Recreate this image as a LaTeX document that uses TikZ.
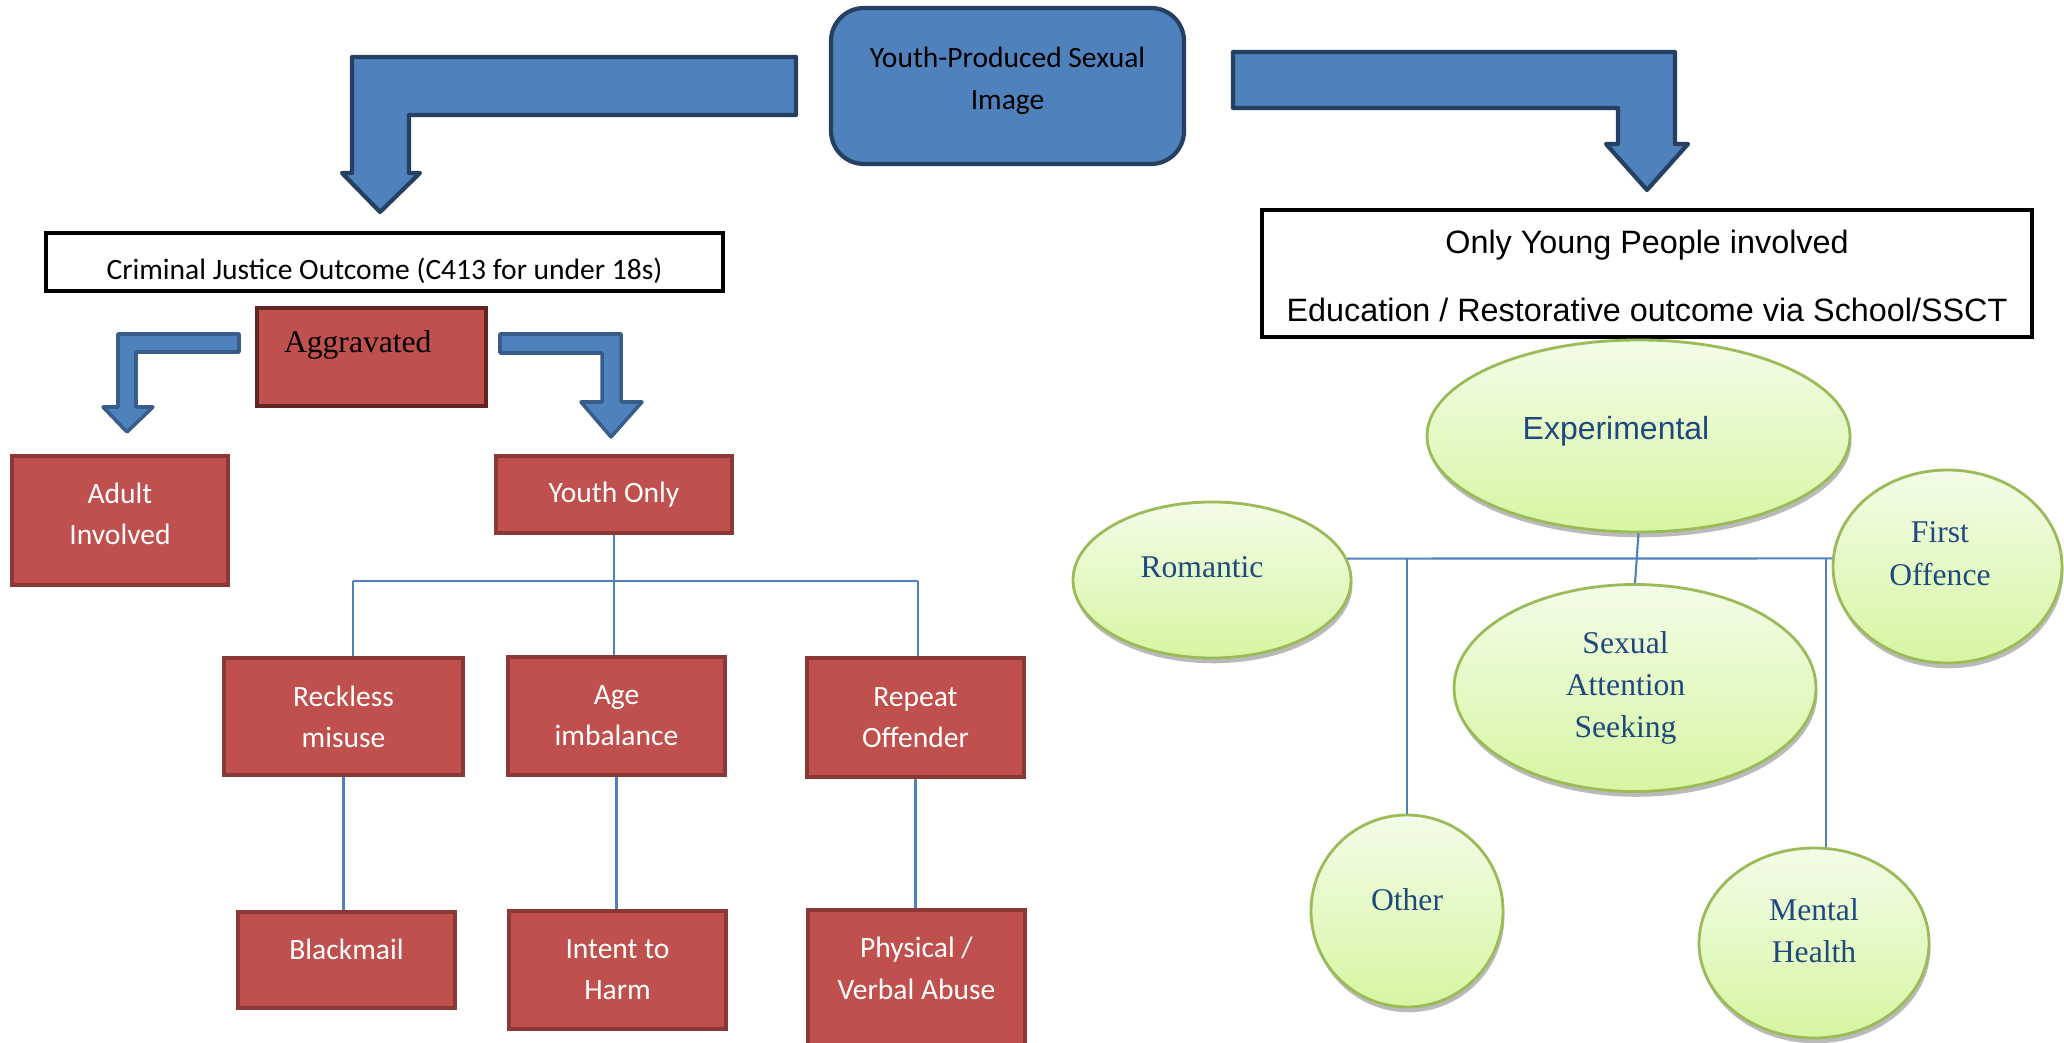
\documentclass[tikz,border=0pt]{standalone}
\usepackage{fontspec}
\newfontfamily\calib{Carlito}
\newfontfamily\tmsf{Liberation Serif}
\newfontfamily\arlf{Liberation Sans}
\usetikzlibrary{shapes.geometric}
\usetikzlibrary{shadows}
\definecolor{bg1}{RGB}{79,129,189}
\definecolor{l1}{RGB}{37,64,97}
\definecolor{l2}{RGB}{56,93,138}
\definecolor{bg2}{RGB}{192,80,77}
\definecolor{l3}{RGB}{140,56,54}
\definecolor{l4}{RGB}{99,37,35}
\definecolor{g1}{RGB}{243,252,232}
\definecolor{g2}{RGB}{214,246,162}
\definecolor{l5}{RGB}{155,187,89}
\definecolor{t1}{RGB}{31,73,125}

\begin{document}
\begin{tikzpicture}[
    a/.style={
        line width=0.6pt,
        color=bg1,
    },
    b/.style={
        fill=bg1, draw=l1, line width=1.2pt, line join=round
    },
    c/.style={
        b, draw=l2, line width=1pt
    },
    m/.style={
        rectangle, fill=bg2, draw=l3, line width=1.4pt, inner sep=0pt,
        align=center, text=white,
        font=\calib\fontsize{8.4}{11.7}\selectfont
    },
    w/.style={
        rectangle, draw=black, line width=0.9pt, inner sep=0pt,
        align=center
    },
    g/.style={
        ellipse, top color=g1, bottom color=g2, draw=l5, line width=0.8pt,
        inner sep=0pt, align=center, text=t1,
        font=\tmsf\fontsize{9}{12}\selectfont,
        drop shadow={shadow xshift=0.4pt, shadow yshift=-1.5pt, fill=black!45, opacity=0.6}
    }
]

    \path [use as bounding box] (0, 0) rectangle (20.64, -10.43);
    \clip (0, 0) rectangle (20.64, -10.43);

    \node [b, rounded corners=0.33cm, minimum width=3.53cm, minimum height=1.56cm,
        align=center, font=\calib\fontsize{8.4}{12}\selectfont,
        text height=15.4pt, text depth=2pt] (yp) at (10.075, -0.86) {Youth-Produced Sexual\\Image};

    % bent arrows
    \draw [b] (7.96,-0.57) -- (3.52,-0.57) -- (3.52,-1.73) -- (3.42,-1.73) -- (3.80,-2.12)
        -- (4.20,-1.73) -- (4.09,-1.73) -- (4.09,-1.15) -- (7.96,-1.15) -- cycle;
    \draw [b] (12.33,-0.52) -- (16.75,-0.52) -- (16.75,-1.44) -- (16.88,-1.44) -- (16.47,-1.90)
        -- (16.06,-1.44) -- (16.18,-1.44) -- (16.18,-1.08) -- (12.33,-1.08) -- cycle;
    \draw [c] (2.39,-3.34) -- (1.18,-3.34) -- (1.18,-4.07) -- (1.03,-4.07) -- (1.27,-4.32)
        -- (1.53,-4.07) -- (1.36,-4.07) -- (1.36,-3.52) -- (2.39,-3.52) -- cycle;
    \draw [c] (5.00,-3.34) -- (6.21,-3.34) -- (6.21,-4.02) -- (6.42,-4.02) -- (6.11,-4.37)
        -- (5.81,-4.02) -- (6.02,-4.02) -- (6.02,-3.53) -- (5.00,-3.53) -- cycle;

    % criminal justice side
    \node [w, minimum width=6.77cm, minimum height=0.58cm,
        font=\calib\fontsize{8.4}{10}\selectfont,
        text height=9.9pt, text depth=0pt] (cj) at (3.845, -2.62) {Criminal Justice Outcome (C413 for under 18s)};
    \node [m, draw=l4, text=black, minimum width=2.29cm, minimum height=0.98cm,
        text width=1.75cm, inner xsep=0.27cm, align=left, font=\tmsf\fontsize{9}{11}\selectfont,
        text height=6.5pt, text depth=9pt] (ag) at (3.715, -3.57) {Aggravated};
    \node [m, minimum width=2.16cm, minimum height=1.29cm,
        text height=15.9pt, text depth=2pt] (ad) at (1.20, -5.205) {Adult\\Involved};
    \node [m, minimum width=2.36cm, minimum height=0.77cm] (yo) at (6.14, -4.945) {Youth Only};
    \node [m, minimum width=2.39cm, minimum height=1.17cm] (rm) at (3.435, -7.165) {Reckless\\misuse};
    \node [m, minimum width=2.17cm, minimum height=1.18cm] (ai) at (6.165, -7.16) {Age\\imbalance};
    \node [m, minimum width=2.17cm, minimum height=1.19cm] (ro) at (9.155, -7.175) {Repeat\\Offender};
    \node [m, minimum width=2.17cm, minimum height=0.96cm,
        text height=6.5pt, text depth=6.8pt] (bm) at (3.465, -9.60) {Blackmail};
    \node [m, minimum width=2.17cm, minimum height=1.18cm] (ih) at (6.175, -9.70) {Intent to\\Harm};
    \node [m, minimum width=2.17cm, minimum height=1.50cm,
        text height=10pt, text depth=2pt] (pv) at (9.165, -9.85) {Physical /\\Verbal Abuse};

    \coordinate (tl) at (3.53, -5.81);
    \coordinate (tr) at (9.18, -5.81);
    \draw [a] (tl) -- (tr);
    \draw [a] (yo.south) -- (yo.south |- ai.north);
    \draw [a] (tl) -- (tl |- rm.north);
    \draw [a] (tr) -- (tr |- ro.north);
    \draw [a] (rm.south) -- (rm.south |- bm.north);
    \draw [a] (ai.south) -- (ai.south |- ih.north);
    \draw [a] (ro.south) -- (ro.south |- pv.north);

    % young people side
    \node [w, minimum width=7.70cm, minimum height=1.27cm,
        font=\arlf\fontsize{9.2}{19.5}\selectfont,
        text height=29.6pt, text depth=2pt] (yp2) at (16.47, -2.735) {Only Young People involved\\Education / Restorative outcome via School/SSCT};
    \node [g, minimum width=4.23cm, minimum height=1.92cm, font=\arlf\fontsize{9.1}{12}\selectfont,
        text height=7pt, text depth=4.8pt] (ex) at (16.385, -4.36) {Experimental\kern12.8pt};
    \node [g, minimum width=2.78cm, minimum height=1.56cm,
        text height=6.5pt, text depth=7.9pt] (rom) at (12.12, -5.80) {Romantic\kern5.7pt};
    \node [g, minimum width=2.29cm, minimum height=1.93cm,
        text height=12.6pt, text depth=2pt] (fo) at (19.475, -5.665) {First\kern4.3pt\\Offence\kern4.3pt};
    \node [g, minimum width=3.62cm, minimum height=2.07cm] (sa) at (16.35, -6.88) {Sexual\kern5.4pt\\Attention\kern5.4pt\\Seeking\kern5.4pt};
    \node [g, minimum width=1.92cm, minimum height=1.92cm,
        text height=6.5pt, text depth=6.7pt] (oth) at (14.07, -9.11) {Other};
    \node [g, minimum width=2.30cm, minimum height=1.90cm,
        text height=13.2pt, text depth=2pt] (mh) at (18.14, -9.43) {Mental\\Health};

    \draw [a] (rom.9) -- (fo.176);
    \draw [a] (ex.south) -- (sa.north);
    \draw [a] (oth.north) -- (oth.north |- rom.9);
    \draw [a] (mh.83) -- (mh.83 |- rom.9);

\end{tikzpicture}
\end{document}
